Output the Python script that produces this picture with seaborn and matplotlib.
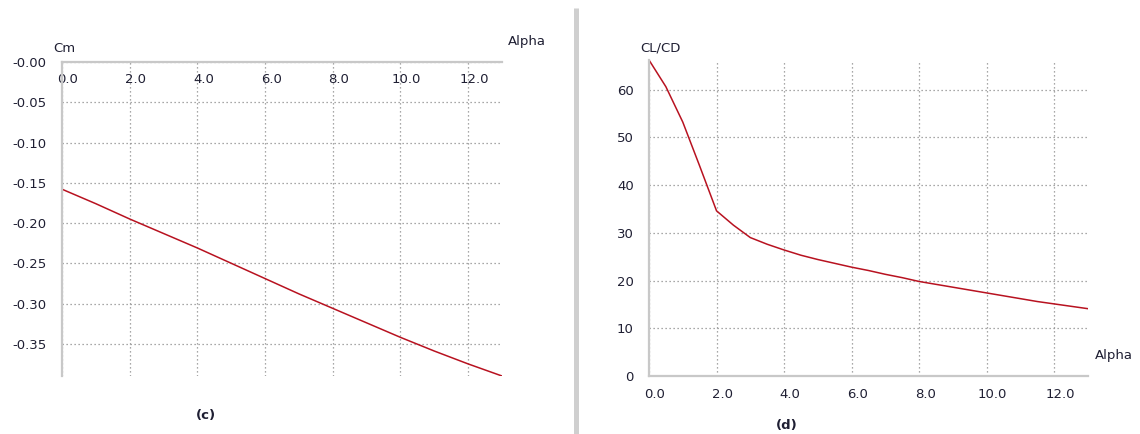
import matplotlib
matplotlib.use("Agg")
import matplotlib.pyplot as plt
import matplotlib.transforms as mtransforms
from matplotlib.lines import Line2D
import seaborn as sns
import pandas as pd
import numpy as np

# Pitching moment coefficient vs angle of attack
alpha_cm = [0, 1, 2, 3, 4, 5, 6, 7, 8, 9, 10, 11, 12, 13]
cm = [-0.158, -0.176, -0.195, -0.213, -0.231, -0.250, -0.269,
      -0.288, -0.306, -0.324, -0.342, -0.359, -0.375, -0.390]

# Lift-to-drag ratio vs angle of attack
alpha_ld = [0.0, 0.5, 1.0, 1.5, 2.0, 2.5, 3.0, 3.5, 4.0, 4.5, 5.0, 5.5, 6.0,
            6.5, 7.0, 7.5, 8.0, 8.5, 9.0, 9.5, 10.0, 10.5, 11.0, 11.5, 12.0,
            12.5, 13.0]
cl_cd = [66.2, 60.6, 53.2, 44.0, 34.6, 31.6, 29.0, 27.6, 26.4, 25.3, 24.4,
         23.6, 22.8, 22.1, 21.3, 20.6, 19.8, 19.2, 18.6, 18.0, 17.4, 16.8,
         16.2, 15.6, 15.1, 14.6, 14.1]

x_ticks = [0, 2, 4, 6, 8, 10, 12]
x_tick_labels = ["0.0", "2.0", "4.0", "6.0", "8.0", "10.0", "12.0"]
cm_ticks = [0.0, -0.05, -0.10, -0.15, -0.20, -0.25, -0.30, -0.35]
cm_tick_labels = ["-0.00", "-0.05", "-0.10", "-0.15", "-0.20", "-0.25", "-0.30", "-0.35"]
ld_ticks = [0, 10, 20, 30, 40, 50, 60]
ld_tick_labels = ["0", "10", "20", "30", "40", "50", "60"]

sns.set_style("white")
plt.rcParams["font.family"] = ["DejaVu Sans"]

W, H = 1140, 434
DPI = 100
fig = plt.figure(figsize=(W / DPI, H / DPI), dpi=DPI)

TEXT = "#1f1f33"
AXIS = "#c8c8c8"
GRID = "#8c8c8c"
LINE = "#b81220"
FS = 9.5


def px_box(x0, y0, x1, y1):
    return [x0 / W, 1 - y1 / H, (x1 - x0) / W, (y1 - y0) / H]


def style_axes(ax):
    ax.set_facecolor("white")
    for side in ("top", "right"):
        ax.spines[side].set_visible(False)
    for side in ("left", "bottom"):
        ax.spines[side].set_color(AXIS)
        ax.spines[side].set_linewidth(1.6)
    ax.tick_params(axis="both", which="major", direction="out", length=6,
                   width=1, color=AXIS, labelsize=FS, labelcolor=TEXT, pad=3)
    ax.tick_params(axis="y", pad=5)
    ax.grid(True, color=GRID, linestyle=(0, (1, 2.2)), linewidth=0.9)
    ax.set_xlabel("")
    ax.set_ylabel("")


def shift_xlabels(ax, dx_px):
    off = mtransforms.ScaledTranslation(dx_px / DPI, 0, fig.dpi_scale_trans)
    for lab in ax.get_xticklabels():
        lab.set_transform(lab.get_transform() + off)


# ---- (c) Cm ----
ax1 = fig.add_axes(px_box(62, 62, 502, 376))
df_cm = pd.DataFrame({"Alpha": alpha_cm, "Cm": cm})
sns.lineplot(data=df_cm, x="Alpha", y="Cm", ax=ax1, color=LINE, linewidth=1.1)
ax1.set_xlim(0, 13)
ax1.set_ylim(-0.39, 0.0)
style_axes(ax1)
ax1.spines["bottom"].set_position(("data", 0.0))
ax1.set_xticks(x_ticks)
ax1.set_xticklabels(x_tick_labels)
ax1.set_yticks(cm_ticks)
ax1.set_yticklabels(cm_tick_labels)
ax1.tick_params(axis="x", pad=2)
shift_xlabels(ax1, 6)

# ---- (d) CL/CD ----
ax2 = fig.add_axes(px_box(649, 60, 1088, 376))
df_ld = pd.DataFrame({"Alpha": alpha_ld, "CL/CD": cl_cd})
sns.lineplot(data=df_ld, x="Alpha", y="CL/CD", ax=ax2, color=LINE, linewidth=1.1)
ax2.set_xlim(0, 13)
ax2.set_ylim(0, 66.2)
style_axes(ax2)
ax2.set_xticks(x_ticks)
ax2.set_xticklabels(x_tick_labels)
ax2.set_yticks(ld_ticks)
ax2.set_yticklabels(ld_tick_labels)
shift_xlabels(ax2, 6)


def ftext(x, y, s, **kw):
    fig.text(x / W, 1 - y / H, s, color=TEXT, fontsize=FS, **kw)


ftext(53, 49, "Cm", ha="left", va="center")
ftext(508, 41, "Alpha", ha="left", va="center")
ftext(206, 415, "(c)", ha="center", va="center", fontweight="bold")
ftext(640, 48, "CL/CD", ha="left", va="center")
ftext(1095, 355, "Alpha", ha="left", va="center")
ftext(787, 425, "(d)", ha="center", va="center", fontweight="bold")

# Panel separator
fig.add_artist(Line2D([575.5 / W, 575.5 / W], [0, 1 - 8 / H],
                      transform=fig.transFigure, color="#cfcfcf",
                      linewidth=3.6, solid_capstyle="butt"))

fig.savefig("out.png", dpi=DPI, facecolor="white")
